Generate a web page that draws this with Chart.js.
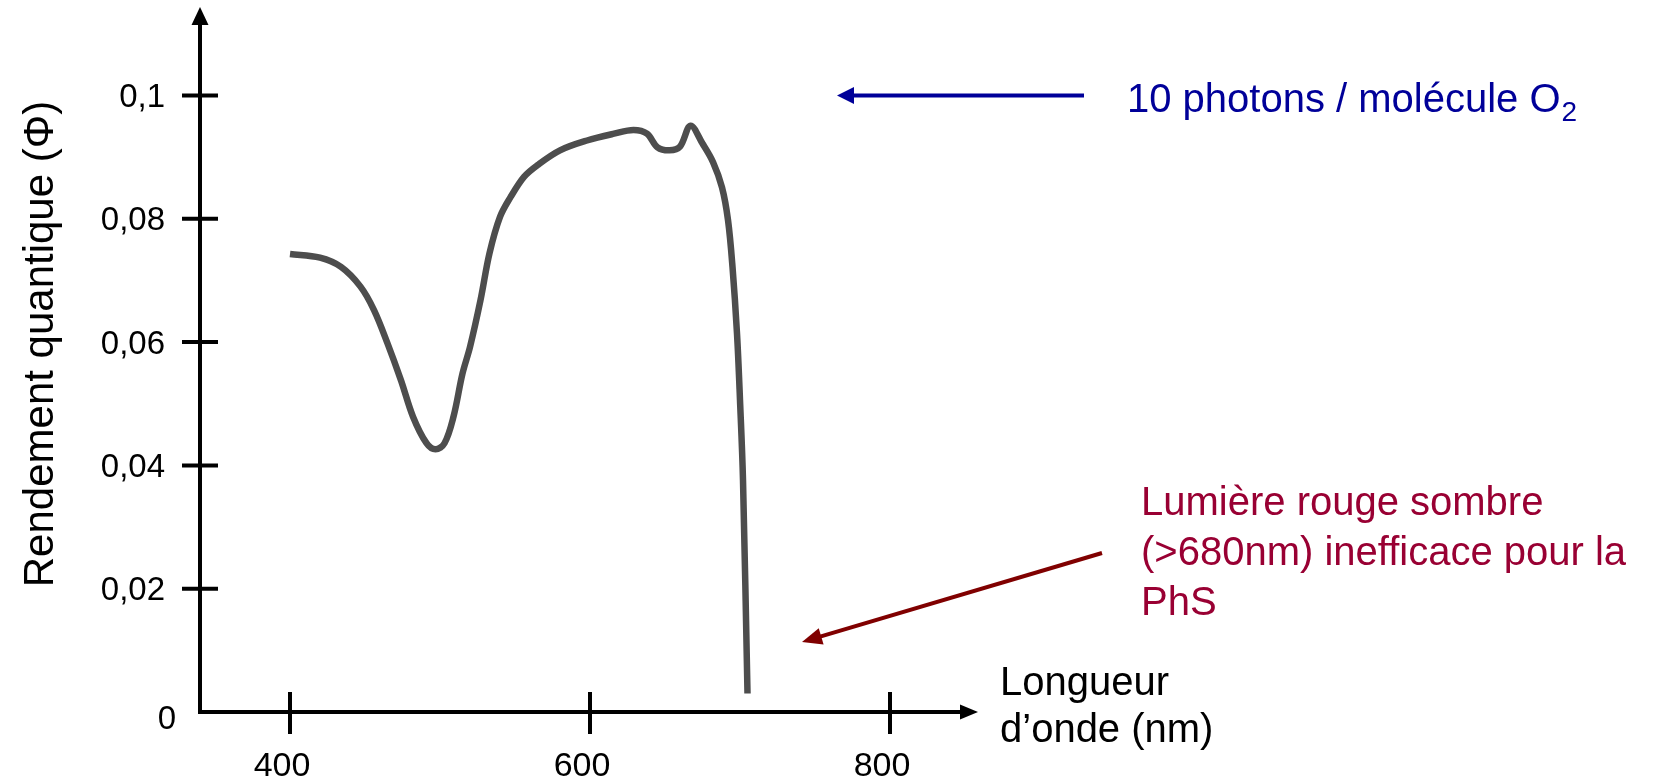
<!DOCTYPE html>
<html lang="fr">
<head>
<meta charset="utf-8">
<title>Rendement quantique</title>
<script src="https://cdn.jsdelivr.net/npm/chart.js@4.4.1/dist/chart.umd.min.js"></script>
<style>
    html, body { margin: 0; padding: 0; background: #fff; overflow: hidden; }
    canvas { display: block; }
</style>
</head>
<body>
<canvas id="chart" width="1662" height="784"></canvas>
<script>
// Data
const wavelengths = [400, 420, 434, 447, 456, 465, 474, 482, 491, 497, 503, 509, 515, 520, 527, 533, 540, 547, 556, 565, 580, 598, 616, 629, 638, 645, 653, 660, 667, 675, 682, 688, 692, 695, 698, 700, 702, 705];
const quantumYield = [0.0743, 0.0737, 0.0722, 0.0690, 0.0652, 0.0598, 0.0538, 0.0479, 0.0436, 0.0426, 0.0436, 0.0479, 0.0549, 0.0592, 0.0668, 0.0744, 0.0803, 0.0835, 0.0868, 0.0887, 0.0911, 0.0927, 0.0938, 0.0944, 0.0938, 0.0916, 0.0911, 0.0917, 0.0951, 0.0922, 0.0892, 0.0851, 0.0798, 0.0722, 0.0614, 0.0506, 0.0376, 0.0030];

const xTickValues = [400, 600, 800];
const xTickLabels = ['400', '600', '800'];
const yTickValues = [0, 0.02, 0.04, 0.06, 0.08, 0.1];
const yTickLabels = ['0', '0,02', '0,04', '0,06', '0,08', '0,1'];

const yTitle = 'Rendement quantique (\u03A6)';
const xTitle = ['Longueur', 'd\u2019onde (nm)'];
const blueNote = '10 photons / mol\u00e9cule O';
const blueNoteSub = '2';
const redNote = ['Lumi\u00e8re rouge sombre', '(>680nm) inefficace pour la', 'PhS'];

const FONT = '"Liberation Sans", Arial, Helvetica, sans-serif';

// Draw a straight arrow with a filled head at (x2, y2)
function drawArrow(ctx, x1, y1, x2, y2, color, width, headLen, headHalf) {
    const ang = Math.atan2(y2 - y1, x2 - x1);
    const bx = x2 - headLen * Math.cos(ang);
    const by = y2 - headLen * Math.sin(ang);
    ctx.save();
    ctx.strokeStyle = color;
    ctx.fillStyle = color;
    ctx.lineWidth = width;
    ctx.beginPath();
    ctx.moveTo(x1, y1);
    ctx.lineTo(bx + 2 * Math.cos(ang), by + 2 * Math.sin(ang));
    ctx.stroke();
    ctx.beginPath();
    ctx.moveTo(x2, y2);
    ctx.lineTo(bx + headHalf * Math.sin(ang), by - headHalf * Math.cos(ang));
    ctx.lineTo(bx - headHalf * Math.sin(ang), by + headHalf * Math.cos(ang));
    ctx.closePath();
    ctx.fill();
    ctx.restore();
}

// Axes, ticks, labels and notes drawn from the chart scales
const axesPlugin = {
    id: 'handAxes',
    afterDatasetsDraw(chart) {
        const ctx = chart.ctx;
        const xs = chart.scales.x;
        const ys = chart.scales.y;
        const x0 = xs.getPixelForValue(xs.min);
        const y0 = ys.getPixelForValue(0);
        const yTop = 7;
        const xEnd = 978;

        ctx.save();
        ctx.strokeStyle = '#000';
        ctx.fillStyle = '#000';
        ctx.lineWidth = 4;
        ctx.lineCap = 'butt';

        // axis lines
        ctx.beginPath();
        ctx.moveTo(x0, yTop + 15);
        ctx.lineTo(x0, y0);
        ctx.lineTo(xEnd - 15, y0);
        ctx.stroke();

        // arrow heads
        ctx.beginPath();
        ctx.moveTo(x0, yTop);
        ctx.lineTo(x0 - 8.5, yTop + 18);
        ctx.lineTo(x0 + 8.5, yTop + 18);
        ctx.closePath();
        ctx.fill();
        ctx.beginPath();
        ctx.moveTo(xEnd, y0);
        ctx.lineTo(xEnd - 18, y0 - 7.5);
        ctx.lineTo(xEnd - 18, y0 + 7.5);
        ctx.closePath();
        ctx.fill();

        // y ticks and labels
        ctx.font = '33px ' + FONT;
        ctx.textAlign = 'right';
        ctx.textBaseline = 'alphabetic';
        yTickValues.forEach((v, i) => {
            const py = ys.getPixelForValue(v);
            if (v !== 0) {
                ctx.beginPath();
                ctx.moveTo(x0 - 18, py);
                ctx.lineTo(x0 + 18, py);
                ctx.stroke();
                ctx.fillText(yTickLabels[i], x0 - 35, py + 11.5);
            } else {
                ctx.fillText(yTickLabels[i], x0 - 24, py + 17);
            }
        });

        // x ticks and labels
        ctx.font = '34px ' + FONT;
        ctx.textAlign = 'center';
        xTickValues.forEach((v, i) => {
            const px = xs.getPixelForValue(v);
            ctx.beginPath();
            ctx.moveTo(px, y0 - 20);
            ctx.lineTo(px, y0 + 22);
            ctx.stroke();
            ctx.fillText(xTickLabels[i], px - 8, 776);
        });

        // axis titles
        ctx.font = '40px ' + FONT;
        ctx.textAlign = 'left';
        ctx.fillText(xTitle[0], 1000, 695);
        ctx.fillText(xTitle[1], 1000, 742);

        ctx.save();
        ctx.translate(53, 344);
        ctx.rotate(-Math.PI / 2);
        ctx.font = '42px ' + FONT;
        ctx.textAlign = 'center';
        ctx.fillText(yTitle, 0, 0);
        ctx.restore();

        // blue note at the 0,1 level
        const yTen = ys.getPixelForValue(0.1);
        drawArrow(ctx, 1084, yTen, 837, yTen, '#000099', 4, 17, 8.5);
        ctx.fillStyle = '#000099';
        ctx.font = '40px ' + FONT;
        ctx.textAlign = 'left';
        ctx.fillText(blueNote, 1127, yTen + 16.5);
        const w = ctx.measureText(blueNote).width;
        ctx.font = '28px ' + FONT;
        ctx.fillText(blueNoteSub, 1127 + w + 1, yTen + 26);

        // red note
        drawArrow(ctx, 1102, 553, 802, 642, '#800000', 4, 20, 8.5);
        ctx.fillStyle = '#990033';
        ctx.font = '40px ' + FONT;
        redNote.forEach((line, i) => {
            ctx.fillText(line, 1141, 515 + i * 50);
        });

        ctx.restore();
    }
};

document.addEventListener('DOMContentLoaded', function() {
    const ctx = document.getElementById('chart').getContext('2d');
    new Chart(ctx, {
        type: 'line',
        data: {
            datasets: [{
                data: wavelengths.map((w, i) => ({ x: w, y: quantumYield[i] })),
                borderColor: '#4d4d4d',
                borderWidth: 6.5,
                borderCapStyle: 'butt',
                borderJoinStyle: 'round',
                tension: 0.35,
                pointRadius: 0,
                fill: false,
                clip: false
            }]
        },
        options: {
            responsive: false,
            animation: false,
            layout: {
                padding: { left: 200, right: 682, top: 3, bottom: 72 }
            },
            plugins: {
                legend: { display: false },
                tooltip: { enabled: false }
            },
            scales: {
                x: { type: 'linear', min: 340, max: 860, display: false },
                y: { type: 'linear', min: 0, max: 0.115, display: false }
            }
        },
        plugins: [axesPlugin]
    });
});
</script>
</body>
</html>
